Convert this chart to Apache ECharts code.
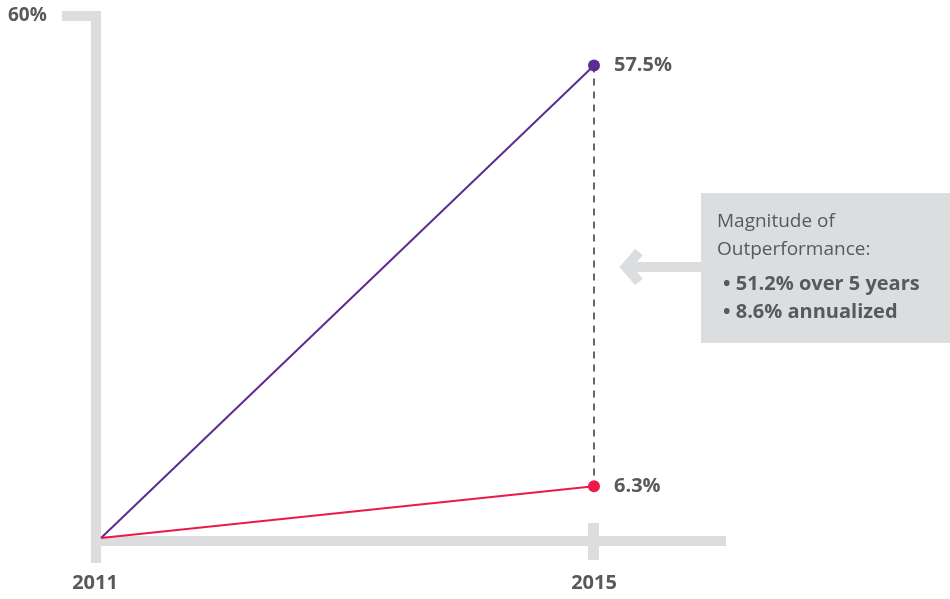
<!DOCTYPE html>
<html>
<head>
<meta charset="utf-8">
<script src="https://cdn.jsdelivr.net/npm/echarts@6/dist/echarts.min.js"></script>
<style>
html,body{margin:0;padding:0;background:#fff;}
#c{width:950px;height:599px;}
</style>
</head>
<body>
<div id="c"></div>
<script>
// Data
var years = [2011, 2015];
var outperformer = [0, 57.5];
var benchmark = [0, 6.3];
var yTopLabel = '60%';
var noteTitle = ['Magnitude of', 'Outperformance:'];
var noteBullets = ['• 51.2% over 5 years', '• 8.6% annualized'];

var PURPLE = '#5c2d91';
var RED = '#ea1a4b';
var GRAY = '#dcdddf';
var TEXT = '#58595b';
var FONT = '"Open Sans", Lato, sans-serif';

function toPoints(vals) {
  return years.map(function (y, i) {
    var p = { value: [y, vals[i]] };
    if (i === 0) { p.symbol = 'none'; p.label = { show: false }; }
    return p;
  });
}

var chart = echarts.init(document.getElementById('c'), null, { renderer: 'canvas' });

var option = {
  animation: false,
  backgroundColor: '#ffffff',
  grid: { left: 101, right: 356, top: 45, bottom: 61 },
  xAxis: {
    type: 'value', min: 2011, max: 2015, interval: 4,
    axisLine: { show: false }, axisTick: { show: false }, splitLine: { show: false },
    axisLabel: {
      margin: 35,
      formatter: function (v) { return v === 2011 ? '{a|' + v + '}' : '{b|' + v + '}'; },
      rich: {
        a: { fontFamily: FONT, fontWeight: 'bold', fontSize: 20, color: TEXT, padding: [0, 12, 0, 0] },
        b: { fontFamily: FONT, fontWeight: 'bold', fontSize: 20, color: TEXT }
      }
    }
  },
  yAxis: {
    type: 'value', min: 0, max: 60,
    axisLine: { show: false }, axisTick: { show: false }, splitLine: { show: false },
    axisLabel: { show: false }
  },
  series: [
    {
      type: 'line', z: 3,
      data: toPoints(outperformer),
      symbol: 'circle', symbolSize: 12,
      lineStyle: { color: PURPLE, width: 2 },
      itemStyle: { color: PURPLE },
      label: {
        show: true, position: 'right', distance: 14,
        formatter: function (p) { return p.value[1] + '%'; },
        fontFamily: FONT, fontWeight: 'bold', fontSize: 20, color: TEXT
      },
      markLine: {
        silent: true, symbol: 'none', z: 1,
        lineStyle: { color: '#666666', type: [7, 6], width: 2 },
        label: { show: false },
        data: [[{ coord: [years[1], outperformer[1]] }, { coord: [years[1], benchmark[1]] }]]
      }
    },
    {
      type: 'line', z: 3,
      data: toPoints(benchmark),
      symbol: 'circle', symbolSize: 12,
      lineStyle: { color: RED, width: 2 },
      itemStyle: { color: RED },
      label: {
        show: true, position: 'right', distance: 14,
        formatter: function (p) { return p.value[1] + '%'; },
        fontFamily: FONT, fontWeight: 'bold', fontSize: 20, color: TEXT
      }
    }
  ]
};
chart.setOption(option);

// Decorative axis frame, positioned from the library's coordinate conversion
var o = chart.convertToPixel({ gridIndex: 0 }, [years[0], 0]);
var t = chart.convertToPixel({ gridIndex: 0 }, [years[1], 0]);
var ox = o[0], oy = o[1], tx = t[0];

chart.setOption({
  graphic: [
    { type: 'rect', z: 0, shape: { x: ox - 10, y: 11, width: 10, height: 552 }, style: { fill: GRAY } },
    { type: 'rect', z: 0, shape: { x: ox - 39, y: 11, width: 39, height: 10 }, style: { fill: GRAY } },
    { type: 'rect', z: 0, shape: { x: ox - 10, y: oy - 2, width: 635, height: 10 }, style: { fill: GRAY } },
    { type: 'rect', z: 0, shape: { x: tx - 6, y: oy - 15, width: 11, height: 37 }, style: { fill: GRAY } },
    { type: 'text', z: 5, left: 8, top: 6, style: { text: yTopLabel, font: 'bold 19px ' + FONT, fill: TEXT } },
    // annotation arrow
    { type: 'rect', z: 0, shape: { x: 632, y: 262, width: 70, height: 10 }, style: { fill: GRAY } },
    { type: 'polyline', z: 0, shape: { points: [[639, 252], [626, 267], [639, 282]] },
      style: { stroke: GRAY, lineWidth: 10, fill: null, lineJoin: 'miter', lineCap: 'butt' } },
    // annotation box
    { type: 'rect', z: 0, shape: { x: 701, y: 193, width: 249, height: 150 }, style: { fill: GRAY } },
    { type: 'text', z: 5, left: 717, top: 208, style: { text: noteTitle.join('\n'), font: '19px ' + FONT, fill: TEXT, lineHeight: 28 } },
    { type: 'text', z: 5, left: 723, top: 270, style: { text: noteBullets.join('\n'), font: 'bold 20px ' + FONT, fill: TEXT, lineHeight: 28 } }
  ]
});
</script>
</body>
</html>
